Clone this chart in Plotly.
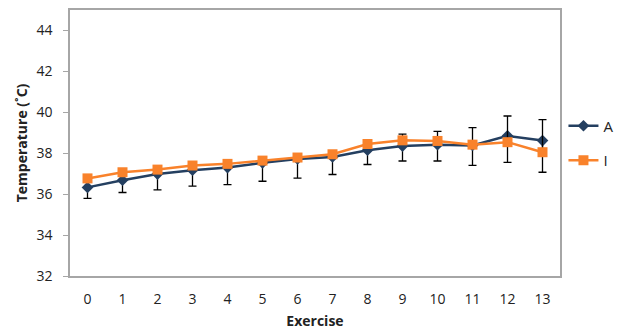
import plotly.graph_objects as go

exercise = list(range(14))
tick_labels = [str(i) for i in exercise]
a_temp = [36.33, 36.68, 36.98, 37.17, 37.30, 37.53, 37.72, 37.82, 38.15, 38.35, 38.42, 38.38, 38.85, 38.62]
a_err_minus = [0.54, 0.60, 0.77, 0.78, 0.83, 0.90, 0.94, 0.86, 0.70, 0.73, 0.80, 0.97, 1.30, 1.55]
i_temp = [36.77, 37.07, 37.20, 37.40, 37.48, 37.64, 37.79, 37.95, 38.45, 38.63, 38.60, 38.42, 38.54, 38.05]
i_err_plus = [0.10, 0.10, 0.10, 0.10, 0.10, 0.10, 0.10, 0.10, 0.10, 0.30, 0.47, 0.83, 1.28, 1.59]

NAVY = "#243F60"
ORANGE = "#F9822B"
FONT = "Open Sans"

fig = go.Figure()
fig.add_trace(go.Scatter(
    x=exercise, y=a_temp, name="A", mode="lines+markers", legendgroup="a",
    line=dict(color=NAVY, width=2.5),
    marker=dict(symbol="diamond", size=9, color=NAVY),
    error_y=dict(type="data", symmetric=False, array=[0]*14, arrayminus=a_err_minus,
                 color="#000000", thickness=1.3, width=4),
))
fig.add_trace(go.Scatter(
    x=exercise, y=i_temp, name="I", mode="lines+markers", legendgroup="i",
    line=dict(color=ORANGE, width=2.5),
    marker=dict(symbol="square", size=10, color=ORANGE),
    error_y=dict(type="data", symmetric=False, array=i_err_plus, arrayminus=[0]*14,
                 color="#000000", thickness=1.3, width=4),
))

fig.update_layout(
    width=627, height=333,
    margin=dict(l=70, r=66, t=10, b=57),
    paper_bgcolor="white", plot_bgcolor="white",
    font=dict(family=FONT, size=14, color="#222222"),
    showlegend=True,
    legend=dict(x=1.005, y=0.5, xanchor="left", yanchor="middle",
                traceorder="grouped", tracegroupgap=12,
                font=dict(family=FONT, size=15, color="#222222"),
                bgcolor="rgba(0,0,0,0)"),
    xaxis=dict(
        range=[-0.5, 13.5], tickmode="array", tickvals=exercise, ticktext=tick_labels,
        showgrid=False, zeroline=False, automargin=False,
        showline=True, linecolor="#A6A6A6", linewidth=1.5, mirror=True,
        ticks="", tickfont=dict(size=14), ticklabelstandoff=9,
        title=dict(text="<b>Exercise</b>", font=dict(size=14), standoff=10),
    ),
    yaxis=dict(
        range=[32, 45], tickmode="array", tickvals=[32, 34, 36, 38, 40, 42, 44],
        showgrid=False, zeroline=False, automargin=False,
        showline=True, linecolor="#A6A6A6", linewidth=1.5, mirror=True,
        ticks="outside", ticklen=5, tickcolor="#A6A6A6", tickwidth=1,
        tickfont=dict(size=14), ticklabelstandoff=8,
        title=dict(text="<b>Temperature (˚C)</b>", font=dict(size=14), standoff=6),
    ),
)

fig.write_html("out.html")
